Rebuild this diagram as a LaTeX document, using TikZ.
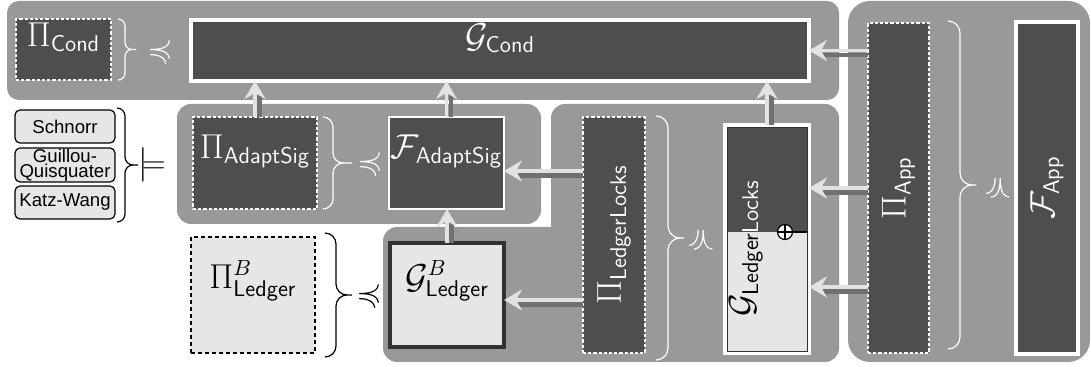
\documentclass[tikz,border=0pt]{standalone}
\usepackage{amsmath,amssymb}
\usepackage{fontspec}
\newfontfamily\listfont{Liberation Sans}
\usetikzlibrary{fit,arrows.meta}

\definecolor{grp}{RGB}{153,153,153}
\definecolor{darkfill}{RGB}{78,78,78}
\definecolor{lightfill}{RGB}{230,230,230}
\definecolor{arrowlight}{RGB}{226,226,226}
\definecolor{arrowshade}{RGB}{112,112,112}
\definecolor{frameline}{RGB}{50,50,50}

% shaded flow arrow: darker offset shaft first, light arrow on top
\newcommand\flowarrow[3]{%
  \draw[flowshade, transform canvas={shift={#3}}] #1 -- #2;
  \draw[flowmain] #1 -- #2;}

% right-pointing curly brace: colour, x, top, bottom, hook radius, tip length
\newcommand\sidebrace[6]{%
  \draw[#1, line width=0.6pt]
    (#2,#3) .. controls ({#2+0.55*#5},#3) and ({#2+#5},{#3+0.45*#5}) .. ({#2+#5},{#3+#5})
    -- ({#2+#5},{(#3+#4)/2-#5})
    .. controls ({#2+#5},{(#3+#4)/2-0.45*#5}) and ({#2+1.45*#5},{(#3+#4)/2}) .. ({#2+2*#5},{(#3+#4)/2})
    -- ({#2+2*#5+#6},{(#3+#4)/2})
    ({#2+2*#5},{(#3+#4)/2})
    .. controls ({#2+1.45*#5},{(#3+#4)/2}) and ({#2+#5},{(#3+#4)/2+0.45*#5}) .. ({#2+#5},{(#3+#4)/2+#5})
    -- ({#2+#5},{#4-#5})
    .. controls ({#2+#5},{#4-0.45*#5}) and ({#2+0.55*#5},#4) .. (#2,#4);}

\begin{document}
\begin{tikzpicture}[x=0.5pt, y=-0.5pt,
  every node/.style={inner sep=0pt, outer sep=0pt},
  mfont/.style={font=\fontsize{16.3}{19}\selectfont},
  protobox/.style={draw=white, line width=0.6pt, dash pattern=on 1.6pt off 1pt,
    fill=darkfill, text=white, mfont},
  funcbox/.style={draw=white, line width=0.8pt, fill=darkfill, text=white, mfont},
  framebox/.style={draw=white, line width=2pt, fill=darkfill, text=white, mfont},
  baseproto/.style={draw=black, line width=0.6pt, dash pattern=on 2pt off 1.5pt,
    fill=lightfill, text=black, mfont},
  basefunc/.style={draw=frameline, line width=2.2pt, fill=lightfill, text=black, mfont},
  schemebox/.style={draw=black, line width=0.6pt, fill=lightfill, rounded corners=2.5pt,
    font=\listfont\fontsize{9.3}{7.6}\selectfont, align=center},
  symw/.style={text=white, mfont},
  symb/.style={text=black, mfont},
  flowshade/.style={draw=arrowshade, line width=2.2pt, shorten >=7pt},
  flowmain/.style={draw=arrowlight, line width=1.8pt,
    -{Stealth[length=9pt, width=10.5pt, inset=3pt]}},
]
\useasboundingbox (0,0) rectangle (1091,367);
\fill[white] (0,0) rectangle (1091,367);

% grouping panels
\fill[grp, rounded corners=6pt] (7,1) rectangle (839,100);
\fill[grp, rounded corners=7pt] (177,104) rectangle (541,224);
\fill[grp, rounded corners=7pt] (551,104) rectangle (839,362);
\fill[grp, rounded corners=7pt] (383,227) rectangle (600,362);
\fill[grp, rounded corners=11pt] (848,1) rectangle (1090,362);

% conditional row
\node[protobox, fit={(16,19) (111,80)}] (picond) {$\Pi_{\mathsf{Cond}}$};
\sidebrace{white}{118}{19}{80}{7}{4}
\node[symw] (preccond) at (160,51) {$\preccurlyeq$};
\node[framebox, fit={(191,20) (809,81)}] (gcond) {$\mathcal{G}_{\mathsf{Cond}}$};

% signature schemes
\node[schemebox, fit={(15,110) (115,143)}] (schnorr) {};
\node[schemebox, draw=none, fill=none] (schnorrtxt) at (schnorr) {Schnorr};
\node[schemebox, fit={(15,148) (115,182)}] (gq) {};
\node[schemebox, draw=none, fill=none] (gqtxt) at (gq) {Guillou-\\Quisquater};
\node[schemebox, fit={(15,186) (115,219)}] (kw) {};
\node[schemebox, draw=none, fill=none] (kwtxt) at (kw) {Katz-Wang};
\sidebrace{black}{117}{108}{222}{8}{5}
\node[symb] (models) at (152,165) {$\models$};

% adaptor signatures
\node[protobox, fit={(193,117) (317,209)}] (piadapt) {$\Pi_{\mathsf{AdaptSig}}$};
\sidebrace{white}{323}{117}{209}{10}{9}
\node[symw] (precadapt) at (370,163) {$\preccurlyeq$};
\node[funcbox, fit={(389,117) (504,209)}] (fadapt) {$\mathcal{F}_{\mathsf{AdaptSig}}$};

% base ledger
\node[baseproto, fit={(191,237) (315,353)}] (piledger) {$\Pi^{B}_{\mathsf{Ledger}}$};
\sidebrace{black}{325}{233}{357}{11}{5}
\node[symb] (precledger) at (369,295) {$\preccurlyeq$};
\node[basefunc, fit={(390,243) (504,347)}] (gledger) {$\mathcal{G}^{B}_{\mathsf{Ledger}}$};

% ledger with locks
\node[protobox, fit={(583,117) (645,353)}] (pilocks) {};
\node[rotate=90, text=white, mfont] (pilockstxt) at (pilocks) {$\Pi_{\mathsf{LedgerLocks}}$};
\sidebrace{white}{656}{116}{360}{12}{4}
\node[symw, rotate=-90] (preclocks) at (702,240) {$\preccurlyeq$};
\node[draw=white, line width=2pt, fill=lightfill, fit={(725,125) (809,353)}] (glocks) {};
\fill[darkfill] (727,127) rectangle (807,232);
\draw[frameline, line width=0.4pt] (727,127) rectangle (807,351);
\begin{scope}
  \clip (727,127) rectangle (807,232);
  \node[rotate=90, text=white, mfont] (glockshi) at (746,248) {$\mathcal{G}_{\mathsf{LedgerLocks}}$};
\end{scope}
\begin{scope}
  \clip (727,232) rectangle (807,351);
  \node[rotate=90, text=black, mfont] (glockslo) at (746,248) {$\mathcal{G}_{\mathsf{LedgerLocks}}$};
\end{scope}
\coordinate (lockedge) at (807,232);
\node[circle, draw=black, fill=white, line width=0.6pt, minimum size=7.5pt] (xorsym) at (785,232) {};
\draw[black, line width=0.6pt] (xorsym.north) -- (xorsym.south) (xorsym.west) -- (xorsym.east);
\draw[black, line width=0.6pt] (xorsym.east) -- (lockedge);

% application
\node[protobox, fit={(868,23) (929,353)}] (piapp) {};
\node[rotate=90, text=white, mfont] (piapptxt) at (piapp) {$\Pi_{\mathsf{App}}$};
\sidebrace{white}{948}{21}{349}{12}{4}
\node[symw, rotate=-90] (precapp) at (999,188) {$\preccurlyeq$};
\node[framebox, fit={(1016,22) (1078,354)}] (fapp) {};
\node[rotate=90, text=white, mfont] (fapptxt) at (fapp) {$\mathcal{F}_{\mathsf{App}}$};

% connectors
\coordinate (appA) at (868,188);
\coordinate (appB) at (868,287);
\coordinate (locksA) at (583,171);
\coordinate (locksB) at (583,300);
\flowarrow{(piapp.west |- gcond.east)}{(gcond.east)}{(0,-2.2pt)}
\flowarrow{(appA)}{(appA -| glocks.east)}{(0,-2.2pt)}
\flowarrow{(appB)}{(appB -| glocks.east)}{(0,-2.2pt)}
\flowarrow{(glocks.north)}{(glocks.north |- gcond.south)}{(2.2pt,0)}
\flowarrow{(locksA)}{(locksA -| fadapt.east)}{(0,-2.2pt)}
\flowarrow{(locksB)}{(locksB -| gledger.east)}{(0,-2.2pt)}
\flowarrow{(gledger.north)}{(gledger.north |- fadapt.south)}{(2.2pt,0)}
\flowarrow{(fadapt.north)}{(fadapt.north |- gcond.south)}{(2.2pt,0)}
\flowarrow{(piadapt.north)}{(piadapt.north |- gcond.south)}{(2.2pt,0)}
\end{tikzpicture}
\end{document}
